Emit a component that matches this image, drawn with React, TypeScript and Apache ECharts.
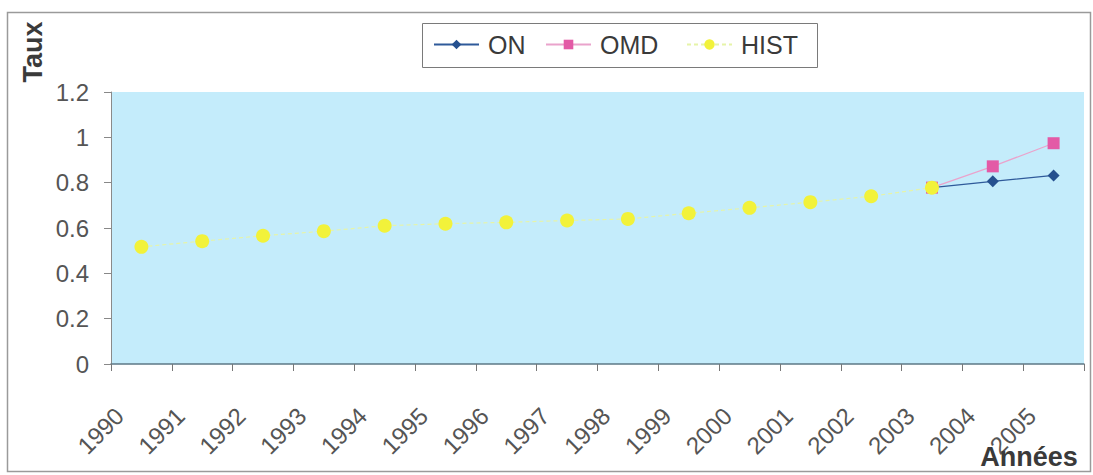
import React, { useEffect, useRef } from "react";
import * as echarts from "echarts";

const years = ["1990","1991","1992","1993","1994","1995","1996","1997","1998","1999","2000","2001","2002","2003","2004","2005"];
const histValues = [0.517,0.542,0.566,0.586,0.61,0.619,0.625,0.633,0.64,0.665,0.689,0.714,0.74,0.778,null,null];
const onValues = [null,null,null,null,null,null,null,null,null,null,null,null,null,0.778,0.806,0.832];
const omdValues = [null,null,null,null,null,null,null,null,null,null,null,null,null,0.778,0.872,0.974];
const yTicks = { min: 0, max: 1.2, interval: 0.2 };

const FONT = "Liberation Sans, Arial, sans-serif";

export default function App() {
  const ref = useRef<HTMLDivElement>(null);
  useEffect(() => {
    if (!ref.current) return;
    const chart = echarts.init(ref.current, undefined, { renderer: "svg" });
    const legendText = { fontSize: 25, color: "#3a3a3a", fontFamily: FONT, padding: [0, 0, 0, 4] };
    chart.setOption({
      animation: false,
      backgroundColor: "#ffffff",
      textStyle: { fontFamily: FONT },
      grid: {
        left: 111, right: 9, top: 92, bottom: 111,
        show: true, backgroundColor: "#c4ecfb", borderWidth: 0,
      },
      legend: [
        { data: ["ON"], left: 433, top: 32, padding: 0, itemWidth: 45, itemHeight: 12, textStyle: legendText },
        { data: ["OMD"], left: 545, top: 32, padding: 0, itemWidth: 45, itemHeight: 12, textStyle: legendText },
        { data: ["HIST"], left: 686, top: 32, padding: 0, itemWidth: 45, itemHeight: 13, textStyle: legendText },
      ],
      xAxis: {
        type: "category",
        data: years,
        boundaryGap: true,
        axisLine: { show: true, lineStyle: { color: "#5d7886", width: 1.5 } },
        axisTick: { show: true, length: 7, alignWithLabel: false, lineStyle: { color: "#777" } },
        axisLabel: {
          interval: 0, rotate: 45, fontSize: 24, color: "#555", fontFamily: FONT,
          margin: 26, padding: [0, 31, 0, 0],
        },
        splitLine: { show: false },
      },
      yAxis: {
        type: "value",
        min: yTicks.min, max: yTicks.max, interval: yTicks.interval,
        axisLine: { show: true, lineStyle: { color: "#8a8a8a", width: 1 } },
        axisTick: { show: true, length: 7, lineStyle: { color: "#888" } },
        axisLabel: {
          fontSize: 24, color: "#555", fontFamily: FONT, margin: 22,
          formatter: (v: number) => String(Math.round(v * 10) / 10),
        },
        splitLine: { show: false },
      },
      series: [
        {
          name: "ON", type: "line", data: onValues,
          symbol: "diamond", symbolSize: 12,
          itemStyle: { color: "#25508f" },
          lineStyle: { color: "#2f5a9a", width: 1.2 },
        },
        {
          name: "OMD", type: "line", data: omdValues,
          symbol: "rect", symbolSize: 12,
          itemStyle: { color: "#e35aa6" },
          lineStyle: { color: "#eaa3cc", width: 1.2 },
        },
        {
          name: "HIST", type: "line", data: histValues,
          symbol: "circle", symbolSize: 14,
          itemStyle: { color: "#f2f23a" },
          lineStyle: { color: "#e6f4a8", width: 1.2, type: [4, 3] },
        },
      ],
      graphic: [
        { type: "rect", shape: { x: 7.5, y: 12.5, width: 1083, height: 459 }, style: { fill: "none", stroke: "#9a9a9a", lineWidth: 1.5 }, z: 100 },
        { type: "rect", shape: { x: 422.5, y: 23.5, width: 395, height: 44 }, style: { fill: "none", stroke: "#7a7a7a", lineWidth: 1 }, z: 100 },
        {
          type: "text", x: 33, y: 52, rotation: Math.PI / 2,
          style: { text: "Taux", fontSize: 27, fontWeight: "bold", fill: "#3a3a3a", fontFamily: FONT, align: "center", verticalAlign: "middle" },
          z: 100,
        },
        {
          type: "text", x: 1029, y: 457,
          style: { text: "Années", fontSize: 27, fontWeight: "bold", fill: "#3a3a3a", fontFamily: FONT, align: "center", verticalAlign: "middle" },
          z: 100,
        },
      ],
    });
    return () => chart.dispose();
  }, []);
  return <div ref={ref} style={{ position: "fixed", left: 0, top: 0, width: 1093, height: 475 }} />;
}
